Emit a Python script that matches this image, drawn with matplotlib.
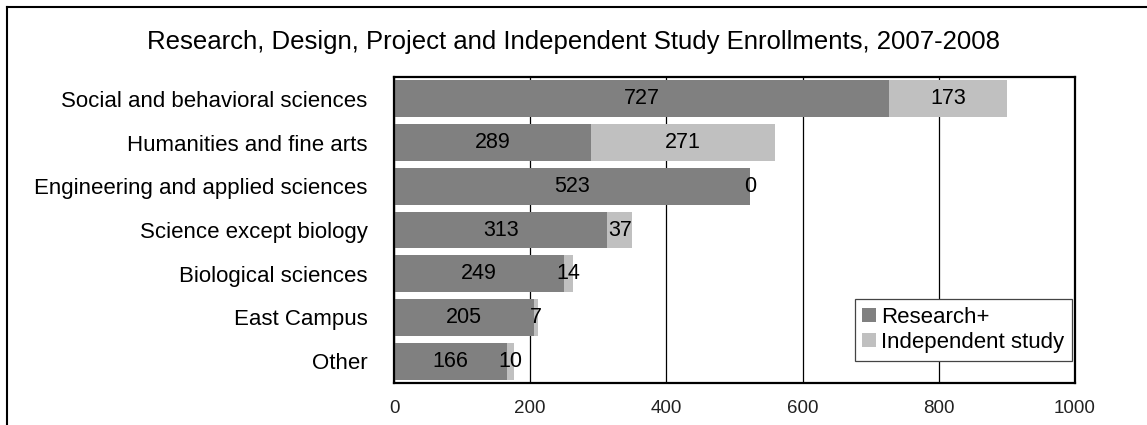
import matplotlib
matplotlib.use("Agg")
import matplotlib.pyplot as plt
from matplotlib.lines import Line2D
import numpy as np

plt.rcParams['font.family'] = ['Liberation Sans', 'DejaVu Sans']

categories = ["Social and behavioral sciences", "Humanities and fine arts",
              "Engineering and applied sciences", "Science except biology",
              "Biological sciences", "East Campus", "Other"]
research = [727, 289, 523, 313, 249, 205, 166]
independent = [173, 271, 0, 37, 14, 7, 10]
xticks = [0, 200, 400, 600, 800, 1000]
title = "Research, Design, Project and Independent Study Enrollments, 2007-2008"

dark = "#808080"
light = "#c0c0c0"

fig = plt.figure(figsize=(11.47, 4.25), dpi=100)
ax = fig.add_axes([394/1147, 1 - 383/425, (1075 - 394)/1147, (383 - 77)/425])

y = np.arange(len(categories))
h = 0.84
ax.barh(y, research, height=h, color=dark, label="Research+")
ax.barh(y, independent, left=research, height=h, color=light, label="Independent study")

# value labels centred in each segment
for i in range(len(categories)):
    ax.text(research[i] / 2, y[i], str(research[i]), ha='center', va='center', fontsize=15.5)
    ax.text(research[i] + independent[i] / 2, y[i], str(independent[i]),
            ha='center', va='center', fontsize=15.5)

ax.set_xlim(0, 1000)
ax.set_ylim(len(categories) - 0.5, -0.5)
ax.set_yticks(y)
ax.set_yticklabels(categories, fontsize=16)
ax.set_xticks(xticks)
ax.set_xticklabels([str(t) for t in xticks], fontsize=13.5, color="#222222")
ax.tick_params(axis='y', length=0, pad=19)
ax.tick_params(axis='x', length=0, pad=12)
ax.xaxis.grid(True, color='black', linewidth=0.9)
ax.set_axisbelow(True)
for s in ax.spines.values():
    s.set_linewidth(1.6)
    s.set_color('black')

leg = ax.legend(loc='lower right', bbox_to_anchor=(0.996, 0.072), fontsize=16,
                handlelength=0.6, handleheight=0.6, handletextpad=0.25,
                borderpad=0.35, labelspacing=0.2, borderaxespad=0,
                fancybox=False, framealpha=1)
leg.get_frame().set_edgecolor('#444444')
leg.get_frame().set_linewidth(0.9)

fig.text(0.5, 1 - 42/425, title, ha='center', va='center', fontsize=18.5)

# chart area border (top and left only visible)
fig.add_artist(Line2D([7/1147, 1], [1 - 7/425, 1 - 7/425], color='black', linewidth=1.5))
fig.add_artist(Line2D([7/1147, 7/1147], [0, 1 - 7/425], color='black', linewidth=1.5))

fig.savefig("out.png", dpi=100)
